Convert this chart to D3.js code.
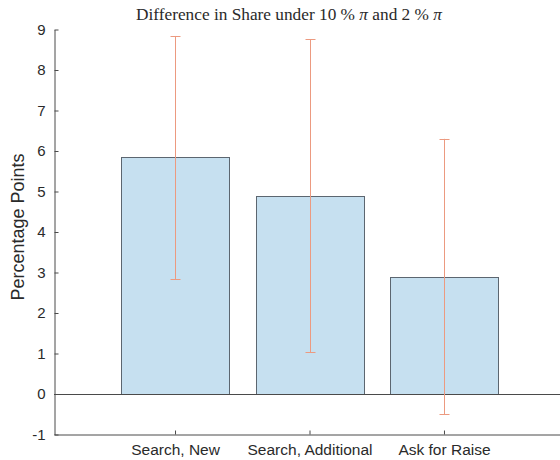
<!DOCTYPE html>
<html>
<head>
<meta charset="utf-8">
<script src="https://cdn.jsdelivr.net/npm/d3@7"></script>
<style>
  html, body { margin: 0; padding: 0; background: #fff; }
  svg { display: block; }
</style>
</head>
<body>
<div id="chart"></div>
<script>
// Bar data: mean difference with confidence half-widths
const categories = ["Search, New", "Search, Additional", "Ask for Raise"];
const values = [5.84, 4.895, 2.9];
const errors = [3.0, 3.86, 3.4];
const yTicks = [-1, 0, 1, 2, 3, 4, 5, 6, 7, 8, 9];

const W = 560, H = 460;
const svg = d3.select("#chart").append("svg")
  .attr("width", W).attr("height", H);

const x = d3.scaleLinear().domain([0.1, 3.9]).range([54, 565]);
const y = d3.scaleLinear().domain([-1, 9]).range([434.5, 29.5]);
const barW = 0.8;
const px = v => Math.round(v) + 0.5;

const axisColor = "#4a4a4a";
const errColor = "#ec9a80";
const sans = "'Liberation Sans', Arial, sans-serif";

// Bars
svg.append("g").selectAll("rect")
  .data(values)
  .join("rect")
  .attr("x", (d, i) => px(x(i + 1 - barW / 2)))
  .attr("width", Math.round(x(1 + barW / 2) - x(1 - barW / 2)))
  .attr("y", d => px(y(Math.max(d, 0))))
  .attr("height", d => Math.round(Math.abs(y(d) - y(0))))
  .attr("fill", "#c6e0f0")
  .attr("stroke", "#5c6670")
  .attr("stroke-width", 1);

// Baseline at zero
svg.append("line")
  .attr("x1", x(0.1)).attr("x2", W)
  .attr("y1", px(y(0))).attr("y2", px(y(0)))
  .attr("stroke", axisColor).attr("stroke-width", 1);

// Error bars
const eb = svg.append("g").attr("stroke", errColor).attr("stroke-width", 1);
values.forEach((v, i) => {
  const cx = px(x(i + 1));
  eb.append("line").attr("x1", cx).attr("x2", cx)
    .attr("y1", y(v + errors[i])).attr("y2", y(v - errors[i]));
  [v + errors[i], v - errors[i]].forEach(e => {
    eb.append("line").attr("x1", cx - 5).attr("x2", cx + 5)
      .attr("y1", px(y(e))).attr("y2", px(y(e)));
  });
});

// Y axis with inward ticks
const yAxis = d3.axisLeft(y).tickValues(yTicks).tickFormat(d => String(d))
  .tickSizeInner(-4).tickSizeOuter(0).tickPadding(9);
const gy = svg.append("g").attr("transform", "translate(54.5,0)").call(yAxis);
gy.select(".domain").attr("stroke", axisColor);
gy.selectAll(".tick line").attr("stroke", axisColor);
gy.selectAll(".tick text")
  .attr("fill", "#2a2a2a")
  .style("font-family", sans)
  .style("font-size", "15px");

// X axis with inward ticks
const xAxis = d3.axisBottom(x).tickValues([1, 2, 3])
  .tickFormat((d) => categories[d - 1])
  .tickSizeInner(-4).tickSizeOuter(0).tickPadding(9);
const gx = svg.append("g").attr("transform", "translate(0,434.5)").call(xAxis);
gx.select(".domain").attr("stroke", axisColor);
gx.selectAll(".tick line").attr("stroke", axisColor);
gx.selectAll(".tick text")
  .attr("fill", "#2a2a2a")
  .style("font-family", sans)
  .style("font-size", "15.5px");

// Y axis title
svg.append("text")
  .attr("transform", `translate(24,${(y(-1) + y(9)) / 2 - 5}) rotate(-90)`)
  .attr("text-anchor", "middle")
  .attr("fill", "#2a2a2a")
  .style("font-family", sans)
  .style("font-size", "18px")
  .text("Percentage Points");

// Chart title with italic pi symbols
const title = svg.append("text")
  .attr("x", 289).attr("y", 20)
  .attr("text-anchor", "middle")
  .attr("fill", "#2a2a2a")
  .style("font-family", "'Liberation Serif', 'Times New Roman', serif")
  .style("font-size", "17.3px");
title.append("tspan").text("Difference in Share under 10 % ");
title.append("tspan").style("font-style", "italic").text("π");
title.append("tspan").text(" and 2 % ");
title.append("tspan").style("font-style", "italic").text("π");
</script>
</body>
</html>
